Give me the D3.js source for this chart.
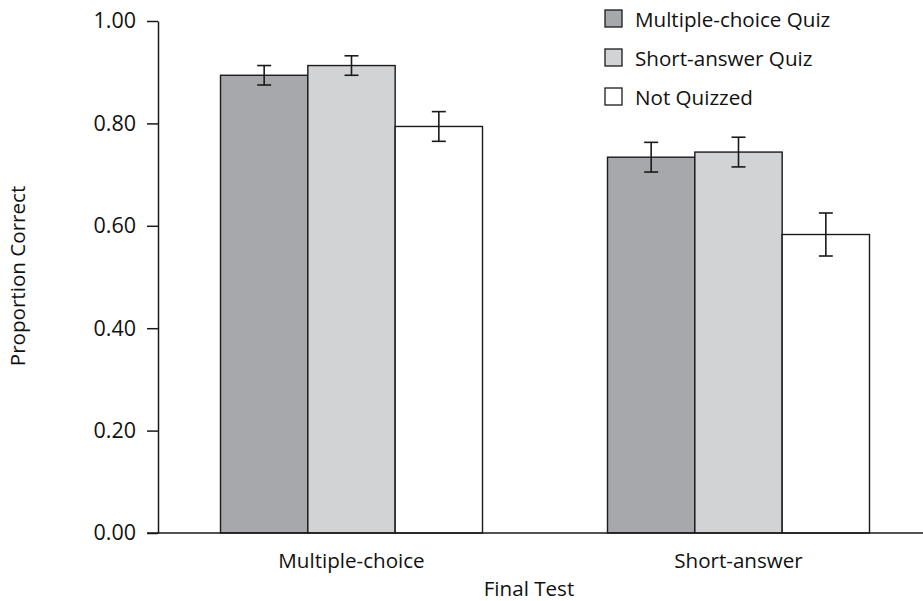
<!DOCTYPE html>
<html>
<head>
<meta charset="utf-8">
<script src="https://cdn.jsdelivr.net/npm/d3@7"></script>
<style>
  html, body { margin: 0; padding: 0; background: #fff; }
  svg { display: block; font-family: "Open Sans", "Noto Sans", sans-serif; }
</style>
</head>
<body>
<svg id="chart" width="923" height="601"></svg>
<script>
// Final test format (x-axis groups)
const categories = ["Multiple-choice", "Short-answer"];
// Quiz conditions (bars within each group)
const seriesNames = ["Multiple-choice Quiz", "Short-answer Quiz", "Not Quizzed"];
// Mean proportion correct, one array per condition, ordered like categories
const mcQuizValues = [0.894, 0.734];
const saQuizValues = [0.913, 0.744];
const notQuizzedValues = [0.794, 0.583];
// Error bar half-widths
const mcQuizErrors = [0.019, 0.029];
const saQuizErrors = [0.019, 0.029];
const notQuizzedErrors = [0.029, 0.042];
// Y-axis ticks
const yTicks = [0, 0.2, 0.4, 0.6, 0.8, 1.0];

const seriesValues = [mcQuizValues, saQuizValues, notQuizzedValues];
const seriesErrors = [mcQuizErrors, saQuizErrors, notQuizzedErrors];
const fills = ["#a7a8ab", "#d2d3d5", "#ffffff"];

const svg = d3.select("#chart");
const margin = { left: 158, right: 0, top: 21, bottom: 68 };
const W = 923, H = 601;
const y0 = H - margin.bottom; // 533

const y = d3.scaleLinear().domain([0, 1]).range([y0, margin.top]);
const x = d3.scaleBand()
  .domain(categories)
  .range([margin.left, margin.left + 774])
  .paddingInner(0.323)
  .paddingOuter(0.1615);
const xs = d3.scaleBand()
  .domain(seriesNames)
  .range([0, x.bandwidth()])
  .padding(0);

const ink = "#1a1a1a";
const fontSize = 20.6;
const tickFontSize = 21.5;

// Bars
const rows = [];
categories.forEach((c, ci) => {
  seriesNames.forEach((s, si) => {
    rows.push({ cat: c, series: s, si, v: seriesValues[si][ci], e: seriesErrors[si][ci] });
  });
});

const g = svg.append("g");
g.selectAll("rect.bar")
  .data(rows)
  .join("rect")
  .attr("class", "bar")
  .attr("x", d => x(d.cat) + xs(d.series))
  .attr("y", d => y(d.v))
  .attr("width", xs.bandwidth())
  .attr("height", d => y(0) - y(d.v))
  .attr("fill", d => fills[d.si])
  .attr("stroke", ink)
  .attr("stroke-width", 1.4);

// Error bars
const capHalf = 7;
const eb = g.selectAll("g.err").data(rows).join("g").attr("class", "err")
  .attr("stroke", ink).attr("stroke-width", 1.6);
const cx = d => x(d.cat) + xs(d.series) + xs.bandwidth() / 2;
eb.append("line")
  .attr("x1", cx).attr("x2", cx)
  .attr("y1", d => y(d.v + d.e)).attr("y2", d => y(d.v - d.e));
eb.append("line")
  .attr("x1", d => cx(d) - capHalf).attr("x2", d => cx(d) + capHalf)
  .attr("y1", d => y(d.v + d.e)).attr("y2", d => y(d.v + d.e));
eb.append("line")
  .attr("x1", d => cx(d) - capHalf).attr("x2", d => cx(d) + capHalf)
  .attr("y1", d => y(d.v - d.e)).attr("y2", d => y(d.v - d.e));

// Y axis
const yAxis = d3.axisLeft(y)
  .tickValues(yTicks)
  .tickFormat(d3.format(".2f"))
  .tickSize(11)
  .tickSizeOuter(0)
  .tickPadding(11);
const ya = svg.append("g")
  .attr("transform", `translate(${margin.left},0)`)
  .call(yAxis);
ya.select(".domain").attr("stroke", ink).attr("stroke-width", 1.5);
ya.selectAll(".tick line").attr("stroke", ink).attr("stroke-width", 1.5);
ya.selectAll(".tick text")
  .attr("fill", "#111")
  .style("font-size", tickFontSize + "px")
  .style("font-family", "'Open Sans', sans-serif");

// X baseline
svg.append("line")
  .attr("x1", margin.left - 11).attr("x2", W)
  .attr("y1", y(0)).attr("y2", y(0))
  .attr("stroke", ink).attr("stroke-width", 1.5);

// Category labels
svg.selectAll("text.cat")
  .data(categories)
  .join("text")
  .attr("class", "cat")
  .attr("x", d => x(d) + x.bandwidth() / 2)
  .attr("y", 568)
  .attr("text-anchor", "middle")
  .attr("fill", "#111")
  .style("font-size", fontSize + "px")
  .text(d => d);

// Axis titles
svg.append("text")
  .attr("x", 529).attr("y", 596)
  .attr("text-anchor", "middle")
  .attr("fill", "#111")
  .style("font-size", fontSize + "px")
  .text("Final Test");

svg.append("text")
  .attr("transform", `translate(25,276) rotate(-90)`)
  .attr("text-anchor", "middle")
  .attr("fill", "#111")
  .style("font-size", fontSize + "px")
  .text("Proportion Correct");

// Legend
const legend = svg.append("g").attr("transform", "translate(605,10)");
const li = legend.selectAll("g").data(seriesNames).join("g")
  .attr("transform", (d, i) => `translate(0,${i * 39})`);
li.append("rect")
  .attr("width", 17).attr("height", 17)
  .attr("fill", (d, i) => fills[i])
  .attr("stroke", ink).attr("stroke-width", 1.3);
li.append("text")
  .attr("x", 30).attr("y", 16.5)
  .attr("fill", "#111")
  .style("font-size", fontSize + "px")
  .text(d => d);
</script>
</body>
</html>
